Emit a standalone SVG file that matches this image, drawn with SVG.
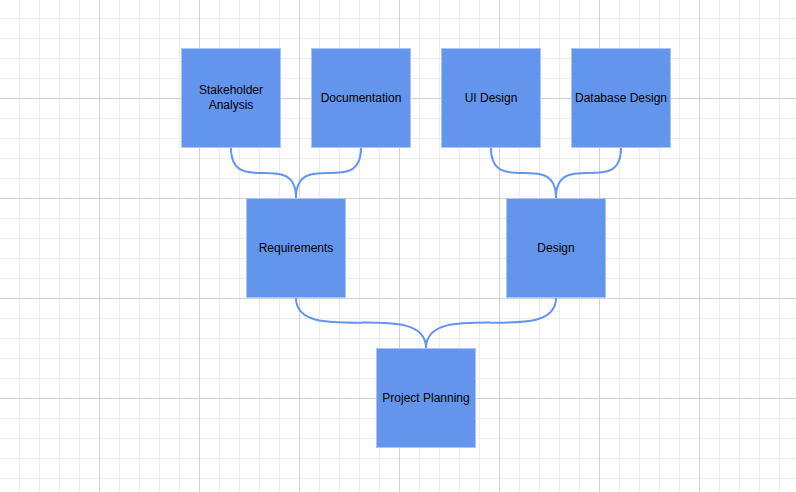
<svg xmlns="http://www.w3.org/2000/svg" width="796" height="492" viewBox="0 0 796 492">
<defs>
<style>
.minor{stroke:#ececec;stroke-width:1}
.major{stroke:#d2d2d2;stroke-width:1}
.node rect{fill:#6495ED;stroke:#a9c4f5;stroke-width:1}
.node text{font-family:"Liberation Sans",Arial,sans-serif;font-size:12px;fill:#000;text-anchor:middle;dominant-baseline:central}
.conn path{fill:none;stroke:#6495ED;stroke-width:2}
</style>
<pattern id="gm" x="19.5" y="18.5" width="20" height="20" patternUnits="userSpaceOnUse">
<path d="M0 0H20M0 0V20" class="minor" transform="translate(0,0)"/>
</pattern>
</defs>
<rect width="796" height="492" fill="#fff"/>
<g id="grid">
<g class="minor">
<path d="M19.5 0V492M39.5 0V492M59.5 0V492M79.5 0V492M119.5 0V492M139.5 0V492M159.5 0V492M179.5 0V492M219.5 0V492M239.5 0V492M259.5 0V492M279.5 0V492M319.5 0V492M339.5 0V492M359.5 0V492M379.5 0V492M419.5 0V492M439.5 0V492M459.5 0V492M479.5 0V492M519.5 0V492M539.5 0V492M559.5 0V492M579.5 0V492M619.5 0V492M639.5 0V492M659.5 0V492M679.5 0V492M719.5 0V492M739.5 0V492M759.5 0V492M779.5 0V492"/>
<path d="M0 18.5H796M0 38.5H796M0 58.5H796M0 78.5H796M0 118.5H796M0 138.5H796M0 158.5H796M0 178.5H796M0 218.5H796M0 238.5H796M0 258.5H796M0 278.5H796M0 318.5H796M0 338.5H796M0 358.5H796M0 378.5H796M0 418.5H796M0 438.5H796M0 458.5H796M0 478.5H796"/>
</g>
<g class="major">
<path d="M99.5 0V492M199.5 0V492M299.5 0V492M399.5 0V492M499.5 0V492M599.5 0V492M699.5 0V492"/>
<path d="M0 98.5H796M0 198.5H796M0 298.5H796M0 398.5H796"/>
</g>
</g>
<g id="connectors" class="conn">
<path d="M231 148C231 198 296 148 296 198"/>
<path d="M361 148C361 198 296 148 296 198"/>
<path d="M491 148C491 198 556 148 556 198"/>
<path d="M621 148C621 198 556 148 556 198"/>
<path d="M296 298C296 348 426 297 426 348"/>
<path d="M556 298C556 348 426 297 426 348"/>
</g>
<g id="stakeholder" class="node"><rect x="181.5" y="48.5" width="99" height="99"/><text x="231" y="90">Stakeholder</text><text x="231" y="105">Analysis</text></g>
<g id="documentation" class="node"><rect x="311.5" y="48.5" width="99" height="99"/><text x="361" y="98">Documentation</text></g>
<g id="uidesign" class="node"><rect x="441.5" y="48.5" width="99" height="99"/><text x="491" y="98">UI Design</text></g>
<g id="dbdesign" class="node"><rect x="571.5" y="48.5" width="99" height="99"/><text x="621" y="98">Database Design</text></g>
<g id="requirements" class="node"><rect x="246.5" y="198.5" width="99" height="99"/><text x="296" y="248">Requirements</text></g>
<g id="design" class="node"><rect x="506.5" y="198.5" width="99" height="99"/><text x="556" y="248">Design</text></g>
<g id="planning" class="node"><rect x="376.5" y="348.5" width="99" height="99"/><text x="426" y="398">Project Planning</text></g>
</svg>
